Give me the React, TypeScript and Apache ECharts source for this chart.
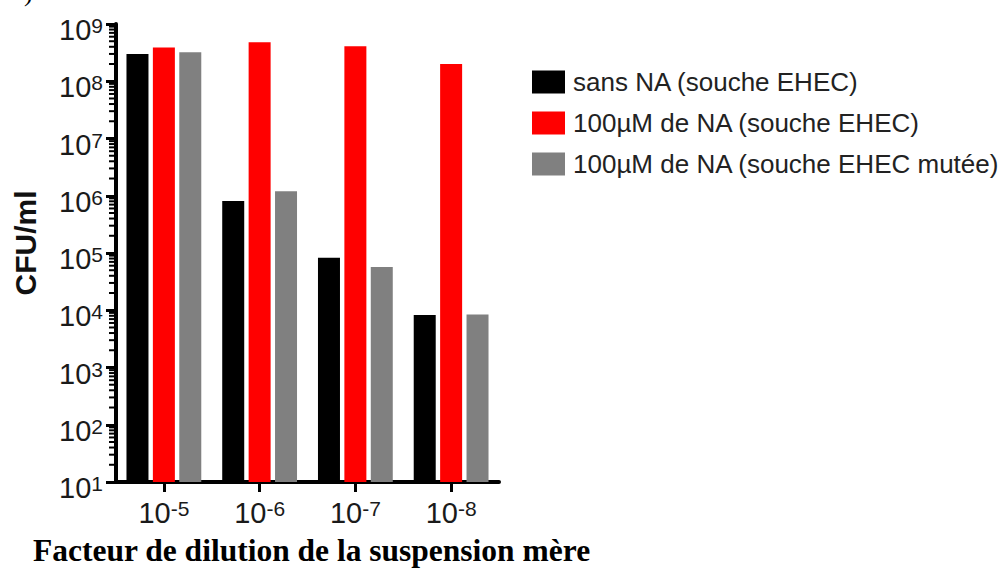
import React, { useEffect, useRef } from 'react';
import * as echarts from 'echarts';

const categories = ['-5', '-6', '-7', '-8'];
const seriesNames = [
  'sans NA (souche EHEC)',
  '100µM de NA (souche EHEC)',
  '100µM de NA (souche EHEC mutée)',
];
const sansNA = [3.0e8, 8.1e5, 8.3e4, 8.3e3];
const na100 = [3.9e8, 4.8e8, 4.1e8, 2.0e8];
const na100Mutee = [3.2e8, 1.2e6, 5.7e4, 8.4e3];
const seriesColors = ['#000000', '#ff0000', '#808080'];
const yMin = 10;
const yMax = 1e9;
const yTitle = 'CFU/ml';
const xTitle = 'Facteur de dilution de la suspension mère';

// minor tick positions of the log axis (2..9 x 10^n)
const minorTicks: number[][] = [];
for (let e = 1; e < 9; e++) {
  for (let k = 2; k <= 9; k++) minorTicks.push([0, k * Math.pow(10, e)]);
}

const SANS = 'Liberation Sans, Arial, sans-serif';
const SERIF = 'Liberation Serif, Times New Roman, serif';

export default function App() {
  const ref = useRef<HTMLDivElement>(null);
  useEffect(() => {
    if (!ref.current) return;
    const chart = echarts.init(ref.current, undefined, { renderer: 'svg' });
    const seriesData = [sansNA, na100, na100Mutee];
    const option: any = {
      animation: false,
      backgroundColor: '#ffffff',
      grid: { left: 116, right: 501, top: 24, bottom: 87, containLabel: false },
      legend: {
        orient: 'vertical',
        left: 527,
        top: 64,
        itemWidth: 33,
        itemHeight: 23,
        itemGap: 15,
        icon: 'rect',
        data: seriesNames,
        textStyle: { fontSize: 26, color: '#222', fontFamily: SANS, padding: [0, 0, 0, 3] },
      },
      xAxis: {
        type: 'category',
        data: categories,
        axisLine: { show: true, lineStyle: { color: '#000', width: 4 } },
        axisTick: { show: true, alignWithLabel: true, length: 10, lineStyle: { color: '#000', width: 3 } },
        axisLabel: {
          margin: 16,
          formatter: (v: string) => `{b|10}{s|${v}}`,
          rich: {
            b: { fontSize: 29, color: '#1a1a1a', fontFamily: SANS, lineHeight: 30 },
            s: { fontSize: 21, color: '#1a1a1a', fontFamily: SANS, lineHeight: 16, verticalAlign: 'top' },
          },
        },
        splitLine: { show: false },
      },
      yAxis: {
        type: 'log',
        logBase: 10,
        min: yMin,
        max: yMax,
        splitNumber: 8,
        axisLine: { show: true, lineStyle: { color: '#000', width: 4 } },
        axisTick: { show: true, length: 10, lineStyle: { color: '#000', width: 3 } },
        axisLabel: {
          margin: 13,
          padding: [12, 0, 0, 0],
          formatter: (v: number) => `{b|10}{s|${Math.round(Math.log10(v))}}`,
          rich: {
            b: { fontSize: 29, color: '#1a1a1a', fontFamily: SANS, lineHeight: 30 },
            s: { fontSize: 21, color: '#1a1a1a', fontFamily: SANS, lineHeight: 16, verticalAlign: 'top' },
          },
        },
        splitLine: { show: false },
      },
      series: [
        ...seriesNames.map((name, i) => ({
          name,
          type: 'bar',
          data: seriesData[i],
          barWidth: 22,
          barGap: '20%',
          clip: true,
          itemStyle: { color: seriesColors[i] },
        })),
        {
          type: 'custom',
          silent: true,
          clip: false,
          z: 5,
          data: minorTicks,
          encode: { x: 0, y: 1 },
          renderItem: (params: any, api: any) => {
            const p = api.coord([api.value(0), api.value(1)]);
            const bw = api.size([1, 0])[0];
            const x = p[0] - bw / 2;
            return {
              type: 'line',
              shape: { x1: x - 2, y1: p[1], x2: x - 7, y2: p[1] },
              style: { stroke: '#000', lineWidth: 2 },
            };
          },
        },
      ],
      graphic: [
        {
          type: 'text',
          x: 25,
          y: 243,
          rotation: Math.PI / 2,
          style: {
            text: yTitle,
            fontSize: 30,
            fontWeight: 'bold',
            fontFamily: SANS,
            fill: '#111',
            align: 'center',
            verticalAlign: 'middle',
          },
        },
        {
          type: 'text',
          x: 33,
          y: 550,
          style: {
            text: xTitle,
            fontSize: 31.5,
            fontWeight: 'bold',
            fontFamily: SERIF,
            fill: '#000',
            align: 'left',
            verticalAlign: 'middle',
          },
        },
        {
          type: 'text',
          x: 24,
          y: -8,
          style: {
            text: ')',
            fontSize: 26,
            fontFamily: SERIF,
            fill: '#000',
            align: 'left',
            verticalAlign: 'middle',
          },
        },
      ],
    };
    chart.setOption(option);
    return () => chart.dispose();
  }, []);
  return (
    <div
      ref={ref}
      style={{ position: 'fixed', left: 0, top: 0, width: 1000, height: 569, background: '#fff' }}
    />
  );
}
